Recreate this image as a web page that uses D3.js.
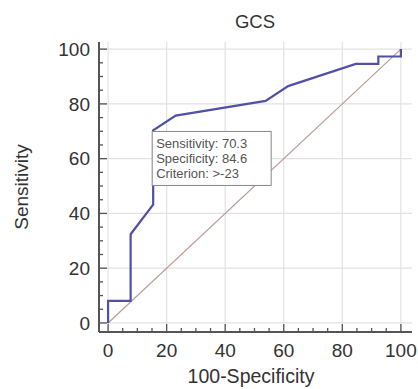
<!DOCTYPE html>
<html>
<head>
<meta charset="utf-8">
<script src="https://cdn.jsdelivr.net/npm/d3@7"></script>
<style>
html,body{margin:0;padding:0;background:#fff;}
svg{display:block;font-family:"Liberation Sans",Arial,sans-serif;}
</style>
</head>
<body>
<svg id="chart" width="418" height="389"></svg>
<script>
// ROC curve points (100-Specificity, Sensitivity)
const fpr = [0, 0, 7.7, 7.7, 15.4, 15.4, 23.1, 53.8, 61.5, 84.6, 92.3, 92.3, 100, 100];
const tpr = [0, 8.1, 8.1, 32.4, 43.2, 70.3, 75.7, 81.1, 86.5, 94.6, 94.6, 97.3, 97.3, 100];
const majorTicks = [0, 20, 40, 60, 80, 100];
const minorTicks = d3.range(0, 101, 5);
const title = "GCS";
const xTitle = "100-Specificity";
const yTitle = "Sensitivity";
const annotation = ["Sensitivity: 70.3", "Specificity: 84.6", "Criterion: >-23"];

const svg = d3.select("#chart");
const x = d3.scaleLinear().domain([-3.1, 103.8]).range([99, 412]);
const y = d3.scaleLinear().domain([-3.3, 102.6]).range([332, 42]);
const [x0, x1] = x.range();
const [y0, y1] = y.range();

// gridlines
const grid = svg.append("g");
grid.selectAll(".vg").data(majorTicks).join("line")
  .attr("x1", d => x(d)).attr("x2", d => x(d))
  .attr("y1", y1).attr("y2", y0)
  .attr("stroke", "#e2e2e2").attr("stroke-width", 1.2);
grid.selectAll(".hg").data(majorTicks).join("line")
  .attr("y1", d => y(d)).attr("y2", d => y(d))
  .attr("x1", x0).attr("x2", x1)
  .attr("stroke", "#e2e2e2").attr("stroke-width", 1.2);

// diagonal reference
svg.append("line")
  .attr("x1", x(0)).attr("y1", y(0)).attr("x2", x(100)).attr("y2", y(100))
  .attr("stroke", "#bb9d98").attr("stroke-width", 1.2);

// ROC curve
const pts = fpr.map((f, i) => [f, tpr[i]]);
svg.append("path").datum(pts)
  .attr("d", d3.line().x(d => x(d[0])).y(d => y(d[1])))
  .attr("fill", "none").attr("stroke", "#5050a8").attr("stroke-width", 2.2);

// axes
const axisColor = "#555";
const xAxis = svg.append("g").attr("transform", `translate(0,${y0})`);
xAxis.append("line").attr("x1", x0).attr("x2", x1).attr("stroke", axisColor).attr("stroke-width", 2);
xAxis.selectAll(".mn").data(minorTicks).join("line")
  .attr("x1", d => x(d)).attr("x2", d => x(d)).attr("y1", 0).attr("y2", d => majorTicks.includes(d) ? -8 : -4)
  .attr("stroke", axisColor).attr("stroke-width", 1.3);
xAxis.selectAll("text").data(majorTicks).join("text")
  .attr("x", d => x(d)).attr("y", 25).attr("text-anchor", "middle")
  .attr("font-size", 19).attr("fill", "#333").text(d => d);

const yAxis = svg.append("g").attr("transform", `translate(${x0},0)`);
yAxis.append("line").attr("y1", y0).attr("y2", y1).attr("stroke", axisColor).attr("stroke-width", 2);
yAxis.selectAll(".mn").data(minorTicks).join("line")
  .attr("y1", d => y(d)).attr("y2", d => y(d)).attr("x1", 0).attr("x2", d => majorTicks.includes(d) ? 8 : 4)
  .attr("stroke", axisColor).attr("stroke-width", 1.3);
yAxis.selectAll("text").data(majorTicks).join("text")
  .attr("x", -9).attr("y", d => y(d)).attr("dy", "0.35em").attr("text-anchor", "end")
  .attr("font-size", 19).attr("fill", "#333").text(d => d);

// titles
svg.append("text").attr("x", 255).attr("y", 28).attr("text-anchor", "middle")
  .attr("font-size", 18.5).attr("fill", "#333").text(title);
svg.append("text").attr("x", 251).attr("y", 383).attr("text-anchor", "middle")
  .attr("font-size", 19.5).attr("fill", "#333").text(xTitle);
svg.append("text").attr("transform", `translate(28,187) rotate(-90)`)
  .attr("text-anchor", "middle").attr("font-size", 19).attr("fill", "#333").text(yTitle);

// annotation box
const bx = x(15.4) - 1, by = y(70.3) + 1;
svg.append("rect").attr("x", bx).attr("y", by).attr("width", 119).attr("height", 54)
  .attr("fill", "#fff").attr("stroke", "#888").attr("stroke-width", 1);
svg.append("g").selectAll("text").data(annotation).join("text")
  .attr("x", bx + 4).attr("y", (d, i) => by + 17 + i * 15)
  .attr("font-size", 13).attr("fill", "#555").text(d => d);
</script>
</body>
</html>
